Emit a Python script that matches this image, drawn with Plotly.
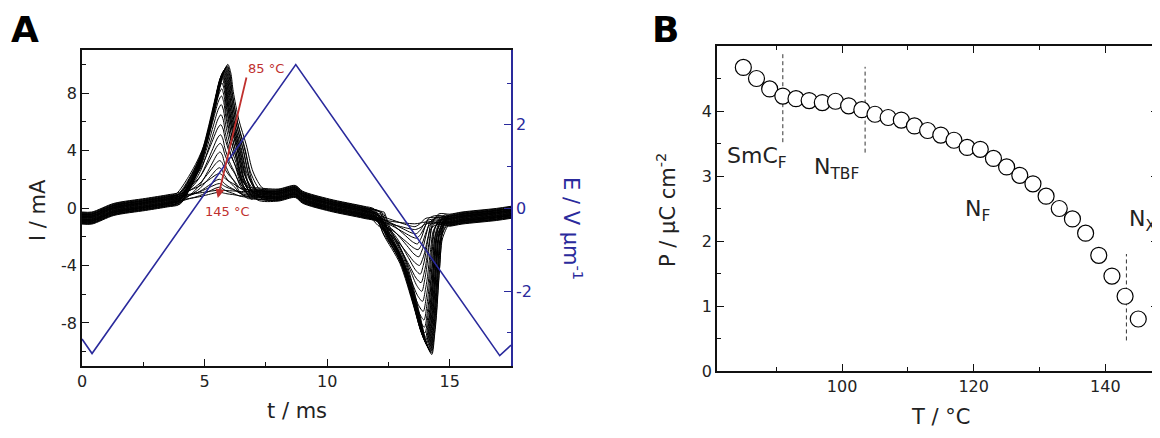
import numpy as np
import plotly.graph_objects as go

# ---------------- Panel A data ----------------
temps_A = [85, 87, 89, 91, 93, 95, 97, 99, 101, 103, 105, 107, 109, 111, 113, 115,
           117, 119, 121, 123, 125, 127, 129, 131, 133, 135, 137, 139, 141, 143, 145]
pos_peak = [10.0, 9.9, 9.85, 9.8, 9.75, 9.7, 9.65, 9.6, 9.55, 9.5, 9.4, 9.3, 9.2, 9.0, 8.7, 8.3,
            7.8, 7.2, 6.5, 5.8, 5.1, 4.5, 3.9, 3.3, 2.8, 2.4, 2.0, 1.7, 1.45, 1.25, 1.1]
pos_time = [5.95, 5.93, 5.91, 5.89, 5.87, 5.85, 5.83, 5.81, 5.79, 5.77, 5.75, 5.74, 5.73, 5.72, 5.71, 5.70,
            5.69, 5.68, 5.67, 5.66, 5.65, 5.64, 5.63, 5.62, 5.61, 5.60, 5.60, 5.60, 5.60, 5.60, 5.60]
pos_width = [1.0, 0.98, 0.96, 0.94, 0.92, 0.9, 0.88, 0.87, 0.86, 0.85, 0.84, 0.83, 0.82, 0.81, 0.8, 0.8,
             0.8, 0.8, 0.8, 0.8, 0.8, 0.8, 0.8, 0.8, 0.8, 0.8, 0.8, 0.8, 0.8, 0.8, 0.8]
neg_peak = [-10.2, -10.1, -10.0, -9.95, -9.9, -9.8, -9.75, -9.7, -9.6, -9.5, -9.4, -9.3, -9.2, -9.0, -8.7, -8.3,
            -7.8, -7.2, -6.5, -5.8, -5.2, -4.6, -4.0, -3.4, -2.9, -2.5, -2.1, -1.8, -1.5, -1.3, -1.1]
neg_time = [14.27, 14.25, 14.23, 14.21, 14.19, 14.17, 14.15, 14.13, 14.11, 14.09, 14.07, 14.05, 14.03, 14.01, 13.99, 13.97,
            13.95, 13.92, 13.89, 13.86, 13.83, 13.8, 13.77, 13.74, 13.71, 13.68, 13.65, 13.62, 13.6, 13.58, 13.56]
base_shift = [0.38, -0.34, 0.26, -0.2, 0.12, -0.42, 0.3, -0.08, 0.04, -0.3, 0.34, -0.16, 0.16, -0.38, 0.08, -0.26,
              0.2, 0.0, -0.12, 0.42, -0.04, 0.24, -0.34, 0.12, -0.2, 0.28, -0.08, 0.04, -0.24, 0.16, -0.16]

# baseline (centre of the noisy band)
base_t = [0.0, 0.4, 1.3, 2.6, 3.5, 4.2, 5.0, 6.0, 7.0, 8.0, 8.7, 9.0, 10.1, 11.5, 12.3, 13.0, 14.0, 15.0, 15.5, 16.9, 17.5]
base_I = [-0.7, -0.7, -0.1, 0.25, 0.5, 0.75, 0.85, 0.95, 1.0, 0.9, 1.15, 0.75, 0.2, -0.3, -0.65, -0.75, -0.8, -0.85, -0.7, -0.45, -0.3]

# peak profiles read from the 85 °C envelope (time offset, fraction of peak)
pos_prof_dt = [-2.1, -1.6, -1.25, -1.0, -0.7, -0.39, -0.15, 0.0, 0.12, 0.22, 0.45, 0.75, 1.03, 1.45]
pos_prof_fr = [0.0, 0.12, 0.24, 0.35, 0.55, 0.78, 0.95, 1.0, 0.93, 0.78, 0.55, 0.35, 0.13, 0.0]
neg_prof_dt = [-1.95, -1.7, -1.04, -0.49, -0.2, 0.0, 0.12, 0.19, 0.33, 0.45, 0.7]
neg_prof_fr = [0.0, 0.11, 0.35, 0.72, 0.93, 1.0, 0.85, 0.72, 0.35, 0.11, 0.0]

# triangular field waveform vertices
field_t = [0.0, 0.41, 8.72, 17.04, 17.5]
field_E = [-3.15, -3.5, 3.45, -3.55, -3.3]

# tick labels
A_xticks = [0, 5, 10, 15]
A_yticks = [-8, -4, 0, 4, 8]
A_yticklabels = ["-8", "-4", "0", "4", "8"]
A_y2ticks = [-2, 0, 2]
A_y2ticklabels = ["-2", "0", "2"]
B_xticks = [100, 120, 140]
B_yticks = [0, 1, 2, 3, 4]

# ---------------- Panel B data ----------------
temps_B = [85, 87, 89, 91, 93, 95, 97, 99, 101, 103, 105, 107, 109, 111, 113, 115,
           117, 119, 121, 123, 125, 127, 129, 131, 133, 135, 137, 139, 141, 143, 145]
polarization = [4.67, 4.50, 4.34, 4.23, 4.19, 4.16, 4.13, 4.15, 4.08, 4.02, 3.95, 3.90, 3.86, 3.77, 3.70, 3.63,
                3.55, 3.44, 3.41, 3.27, 3.14, 3.01, 2.88, 2.69, 2.50, 2.34, 2.12, 1.78, 1.46, 1.15, 0.80]
boundary_T = [91.0, 103.5, 143.2]
boundary_P_low = [3.52, 3.36, 0.47]
boundary_P_high = [4.88, 4.68, 1.80]

# the page places the figure 8 px in from the top-left corner of the window
OFF = 8
W, H = 1160 - OFF, 438 - OFF
FONT = "DejaVu Sans"
BLUE = "#2a2a9c"
RED = "#c0302e"


def px(x):
    return (x - OFF) / W


def py(y):
    return 1 - (y - OFF) / H


fig = go.Figure()


def base(t):
    return np.interp(t, base_t, base_I)


for i in range(len(temps_A)):
    s = base_shift[i]
    w = pos_width[i]
    p_dt = [d * w for d in pos_prof_dt]
    p_start = pos_time[i] + p_dt[0]
    p_end = pos_time[i] + p_dt[-1]
    n_start = neg_time[i] + neg_prof_dt[0]
    n_end = neg_time[i] + neg_prof_dt[-1]
    ts, Is = [], []
    for bt in base_t:
        if bt < p_start:
            ts.append(bt); Is.append(base(bt) + s)
    amp = pos_peak[i] - (base(pos_time[i]) + s)
    for d, f in zip(p_dt, pos_prof_fr):
        t = pos_time[i] + d
        ts.append(t); Is.append(base(t) + s + f * amp)
    for bt in base_t:
        if p_end < bt < n_start:
            ts.append(bt); Is.append(base(bt) + s)
    amp = neg_peak[i] - (base(neg_time[i]) + s)
    for d, f in zip(neg_prof_dt, neg_prof_fr):
        t = neg_time[i] + d
        ts.append(t); Is.append(base(t) + s + f * amp)
    for bt in base_t:
        if bt > n_end:
            ts.append(bt); Is.append(base(bt) + s)
    fig.add_trace(go.Scatter(x=ts, y=Is, mode="lines", xaxis="x", yaxis="y",
                             line=dict(color="black", width=1, shape="spline", smoothing=0.8),
                             showlegend=False, hoverinfo="skip"))

fig.add_trace(go.Scatter(x=field_t, y=field_E, mode="lines", xaxis="x", yaxis="y2",
                         line=dict(color=BLUE, width=1.6), showlegend=False))

# Panel B
for i in range(len(boundary_T)):
    fig.add_trace(go.Scatter(x=[boundary_T[i], boundary_T[i]], y=[boundary_P_low[i], boundary_P_high[i]],
                             mode="lines", xaxis="x2", yaxis="y3",
                             line=dict(color="#333", width=1, dash="4px,3px"), showlegend=False))
fig.add_trace(go.Scatter(x=temps_B, y=polarization, mode="markers", xaxis="x2", yaxis="y3",
                         marker=dict(size=16, color="white", line=dict(color="black", width=1.2)),
                         showlegend=False))

tickfont = dict(family=FONT, size=16, color="#222")
axcommon = dict(showgrid=False, zeroline=False, ticks="inside", ticklen=7, tickwidth=1.2, automargin=False,
                showline=True, linewidth=1.5, linecolor="#111", tickcolor="#111", tickfont=tickfont)

fig.update_layout(
    template="none",
    width=W, height=H, margin=dict(l=0, r=0, t=0, b=0, pad=0, autoexpand=False),
    paper_bgcolor="white", plot_bgcolor="white", showlegend=False,
    xaxis=dict(domain=[px(82), px(511)], range=[0, 17.5], anchor="y",
               tickvals=A_xticks, ticktext=[str(v) for v in A_xticks],
               minor=dict(tickvals=[2.5, 7.5, 12.5], ticklen=4, ticks="inside", tickcolor="#111"),
               mirror=True, **axcommon),
    yaxis=dict(domain=[py(366), py(50)], range=[-11, 11], anchor="x",
               tickvals=A_yticks, ticktext=A_yticklabels,
               minor=dict(tickvals=[-10, -6, -2, 2, 6, 10], ticklen=4, ticks="inside", tickcolor="#111"),
               **axcommon),
    yaxis2=dict(overlaying="y", side="right", anchor="x", range=[-3.8, 3.8],
                tickvals=A_y2ticks, ticktext=A_y2ticklabels, automargin=False,
                showgrid=False, zeroline=False, ticks="inside", ticklen=7, tickwidth=1.2,
                showline=True, linewidth=1.5, linecolor=BLUE, tickcolor=BLUE,
                tickfont=dict(family=FONT, size=16, color=BLUE),
                minor=dict(tickvals=[-3, -1, 1, 3], ticklen=4, ticks="inside", tickcolor=BLUE)),
    xaxis2=dict(domain=[px(717), px(1158)], range=[81, 148], anchor="y3",
                tickvals=B_xticks, ticktext=[str(v) for v in B_xticks],
                minor=dict(tickvals=[90, 110, 130], ticklen=4, ticks="inside", tickcolor="#111"),
                mirror="allticks", **axcommon),
    yaxis3=dict(domain=[py(371), py(46)], range=[0, 5], anchor="x2",
                tickvals=B_yticks, ticktext=[str(v) for v in B_yticks],
                minor=dict(tickvals=[0.5, 1.5, 2.5, 3.5, 4.5], ticklen=4, ticks="inside", tickcolor="#111"),
                mirror="allticks", **axcommon),
)

ann = []


def txt(x, y, text, size=21, color="#222", angle=0, bold=False, xanchor="center", yanchor="middle"):
    ann.append(dict(x=px(x), y=py(y), xref="paper", yref="paper", text=text, showarrow=False,
                    textangle=angle, xanchor=xanchor, yanchor=yanchor,
                    font=dict(family=FONT, size=size, color=color,
                              weight="bold" if bold else "normal")))


txt(25, 29, "A", size=36, color="black", bold=True)
txt(665, 29, "B", size=36, color="black", bold=True)
txt(38, 210, "I / mA", size=21, angle=-90)
txt(297, 411, "t / ms", size=21)
txt(573, 228, "E / V μm<sup>-1</sup>", size=21, color=BLUE, angle=90)
txt(666, 210, "P / μC cm<sup>-2</sup>", size=21, angle=-90)
txt(940, 417, "T / °C", size=21)

txt(725, 158, "SmC<sub>F</sub>", size=22, xanchor="left")
txt(812, 168, "N<sub>TBF</sub>", size=22, xanchor="left")
txt(963, 210, "N<sub>F</sub>", size=22, xanchor="left")
txt(1127, 220, "N<sub>X</sub>", size=22, xanchor="left")

txt(246, 68, "85 °C", size=13, color=RED, xanchor="left")
txt(227, 211, "145 °C", size=13, color=RED)

ann.append(dict(x=5.54, y=0.70, xref="x", yref="y", ax=29, ay=-122, axref="pixel", ayref="pixel",
                showarrow=True, arrowhead=2, arrowsize=1, arrowwidth=1.8, arrowcolor=RED, text=""))

fig.update_layout(annotations=ann)
fig.write_html("out.html")
